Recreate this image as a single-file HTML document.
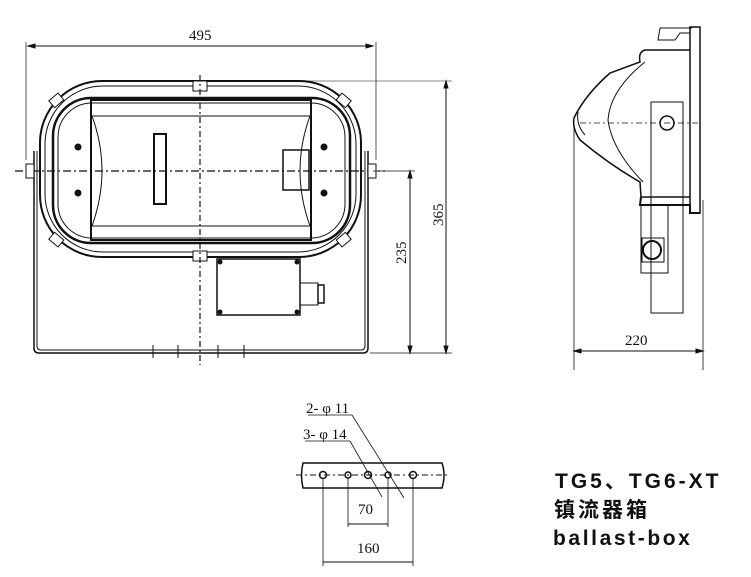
<!DOCTYPE html>
<html><head><meta charset="utf-8"><style>
html,body{margin:0;padding:0;background:#fff;}
svg{display:block}
.t{font-family:"Liberation Serif",serif;font-size:15px;fill:#111}
.b{font-family:"Liberation Sans","Noto Sans CJK SC",sans-serif;font-weight:bold;font-size:21px;fill:#111}
</style></head><body>
<svg width="751" height="577" viewBox="0 0 751 577" xmlns="http://www.w3.org/2000/svg" fill="none" stroke="#111" stroke-width="1">
<!-- FRONT VIEW -->
<line x1="28" y1="46" x2="373" y2="46"/>
<path d="M28 46 l7 -2 v4z M373 46 l-7 -2 v4z" fill="#111"/>
<line x1="26" y1="42" x2="26" y2="160" stroke-width="0.7"/>
<line x1="376" y1="42" x2="376" y2="160" stroke-width="0.7"/>
<text class="t" x="189" y="40" stroke="none">495</text>
<rect x="40" y="81" width="321" height="176" rx="62" stroke-width="2"/>
<rect x="45" y="86" width="311" height="166" rx="58" stroke-width="1"/>
<rect x="53" y="98" width="297" height="145" rx="38" stroke-width="2.5"/>
<rect x="58" y="103" width="287" height="135" rx="34"/>
<rect x="91" y="100" width="220" height="140" stroke-width="2"/>
<line x1="92" y1="116" x2="310" y2="116"/>
<line x1="92" y1="226" x2="310" y2="226"/>
<path d="M92 116 Q112 170 92 226"/>
<path d="M310 116 Q290 170 310 226"/>
<rect x="154" y="134" width="12" height="70" stroke-width="2"/>
<rect x="283" y="150" width="26" height="40" stroke-width="1.5"/>
<g fill="#111" stroke="none">
<circle cx="78" cy="147" r="3.5"/><circle cx="78" cy="193" r="3.5"/>
<circle cx="324" cy="147" r="3.5"/><circle cx="324" cy="193" r="3.5"/>
</g>
<rect x="193" y="81" width="14" height="10" fill="#fff"/>
<rect x="193" y="251" width="14" height="10" fill="#fff"/>
<rect x="50" y="96" width="12" height="9" transform="rotate(-40 56 100)" fill="#fff"/>
<rect x="338" y="96" width="12" height="9" transform="rotate(40 344 100)" fill="#fff"/>
<rect x="50" y="235" width="12" height="9" transform="rotate(40 56 240)" fill="#fff"/>
<rect x="338" y="235" width="12" height="9" transform="rotate(-40 344 240)" fill="#fff"/>
<line x1="15" y1="171" x2="385" y2="171" stroke-dasharray="8 3 2 3" stroke-width="1.2"/>
<line x1="200" y1="75" x2="200" y2="365" stroke-dasharray="6 3 2 3" stroke-width="1.2"/>
<path d="M34 151 V348 Q34 353 39 353 H363 Q368 353 368 348 V151" stroke-width="1.5"/>
<path d="M37 151 V346 Q37 350 41 350 H361 Q365 350 365 346 V151"/>
<rect x="26" y="164" width="8" height="14" fill="#fff"/>
<rect x="368" y="164" width="8" height="14" fill="#fff"/>
<line x1="153" y1="345" x2="153" y2="358"/><line x1="178" y1="345" x2="178" y2="358"/>
<line x1="218" y1="345" x2="218" y2="358"/><line x1="244" y1="345" x2="244" y2="358"/>
<rect x="217" y="259" width="83" height="56" stroke-width="1.5"/>
<g fill="#111" stroke="none"><circle cx="220" cy="262" r="2.5"/><circle cx="297" cy="262" r="2.5"/><circle cx="220" cy="312" r="2.5"/><circle cx="297" cy="312" r="2.5"/></g>
<rect x="300" y="283" width="18" height="22"/>
<rect x="318" y="285" width="6" height="18" stroke-width="1.5"/>
<line x1="210" y1="81" x2="452" y2="81" stroke-width="0.6"/>
<line x1="373" y1="171" x2="415" y2="171" stroke-width="0.8"/>
<line x1="370" y1="353" x2="452" y2="353" stroke-width="0.8"/>
<line x1="446" y1="81" x2="446" y2="353"/>
<path d="M446 81 l-2 7 h4z M446 353 l-2 -7 h4z" fill="#111"/>
<line x1="410" y1="171" x2="410" y2="353"/>
<path d="M410 171 l-2 7 h4z M410 353 l-2 -7 h4z" fill="#111"/>
<text class="t" transform="translate(443 226) rotate(-90)" stroke="none">365</text>
<text class="t" transform="translate(406 264) rotate(-90)" stroke="none">235</text>

<!-- SIDE VIEW -->
<rect x="690" y="27" width="10" height="186" stroke-width="1.5"/>
<path d="M660 28 L692 28 M660 28 L658 40 L675 40 L680 33 L690 33"/>
<path d="M690 50 L645 50 Q638 52 640 62 L610 73 Q585 95 574 118 Q572 128 580 140 Q610 165 640 182 L641 197 L690 197" stroke-width="1.5"/>
<path d="M645 62 Q610 90 608 120 Q612 150 643 182"/>
<path d="M578 112 Q576 125 585 135"/>
<rect x="651" y="102" width="32" height="211"/>
<circle cx="667" cy="123" r="7" stroke-width="1.5"/>
<line x1="580" y1="123" x2="700" y2="123" stroke-dasharray="6 3 2 3" stroke-width="0.7"/>
<path d="M641 197 L640 205 L690 205 L690 213 L700 213" stroke-width="2"/>
<rect x="641" y="205" width="27" height="68"/>
<circle cx="652" cy="250" r="9" stroke-width="2"/>
<rect x="642" y="238" width="22" height="24"/>
<line x1="574" y1="123" x2="574" y2="370" stroke-width="0.8"/>
<line x1="703" y1="200" x2="703" y2="370" stroke-width="0.8"/>
<line x1="574" y1="351" x2="703" y2="351"/>
<path d="M574 351 l7 -2 v4z M703 351 l-7 -2 v4z" fill="#111"/>
<text class="t" x="625" y="345" stroke="none">220</text>

<!-- BOTTOM DETAIL -->
<path d="M303 463 H442 Q446 475 442 488 H303 Q300 475 303 463Z" stroke-width="1.5"/>
<line x1="296" y1="475" x2="450" y2="475" stroke-dasharray="6 3 2 3"/>
<g stroke-width="1.5">
<circle cx="323" cy="475" r="3.5"/><circle cx="348" cy="475" r="3"/><circle cx="368" cy="475" r="3.5"/><circle cx="388" cy="475" r="3"/><circle cx="413" cy="475" r="3.5"/>
</g>
<line x1="323" y1="478" x2="323" y2="566" stroke-width="0.8"/>
<line x1="413" y1="478" x2="413" y2="566" stroke-width="0.8"/>
<line x1="348" y1="478" x2="348" y2="527" stroke-width="0.8"/>
<line x1="388" y1="478" x2="388" y2="527" stroke-width="0.8"/>
<line x1="348" y1="524" x2="388" y2="524"/>
<line x1="323" y1="562" x2="413" y2="562"/>
<text class="t" x="358" y="514" stroke="none">70</text>
<text class="t" x="357" y="553" stroke="none">160</text>
<text class="t" x="306" y="413" stroke="none">2- φ 11</text>
<text class="t" x="303" y="439" stroke="none">3- φ 14</text>
<line x1="308" y1="415" x2="352" y2="415" stroke-width="0.7"/>
<line x1="352" y1="415" x2="404" y2="498" stroke-width="0.8"/>
<line x1="305" y1="441" x2="350" y2="441" stroke-width="0.7"/>
<line x1="350" y1="441" x2="382" y2="497" stroke-width="0.8"/>

<!-- TITLE -->
<text class="b" x="555" y="488" stroke="none" letter-spacing="3">TG5、TG6-XT</text>
<text class="b" x="554" y="517" stroke="none" letter-spacing="3">镇流器箱</text>
<text class="b" x="553" y="545" stroke="none" letter-spacing="2.6">ballast-box</text>
</svg>
</body></html>
